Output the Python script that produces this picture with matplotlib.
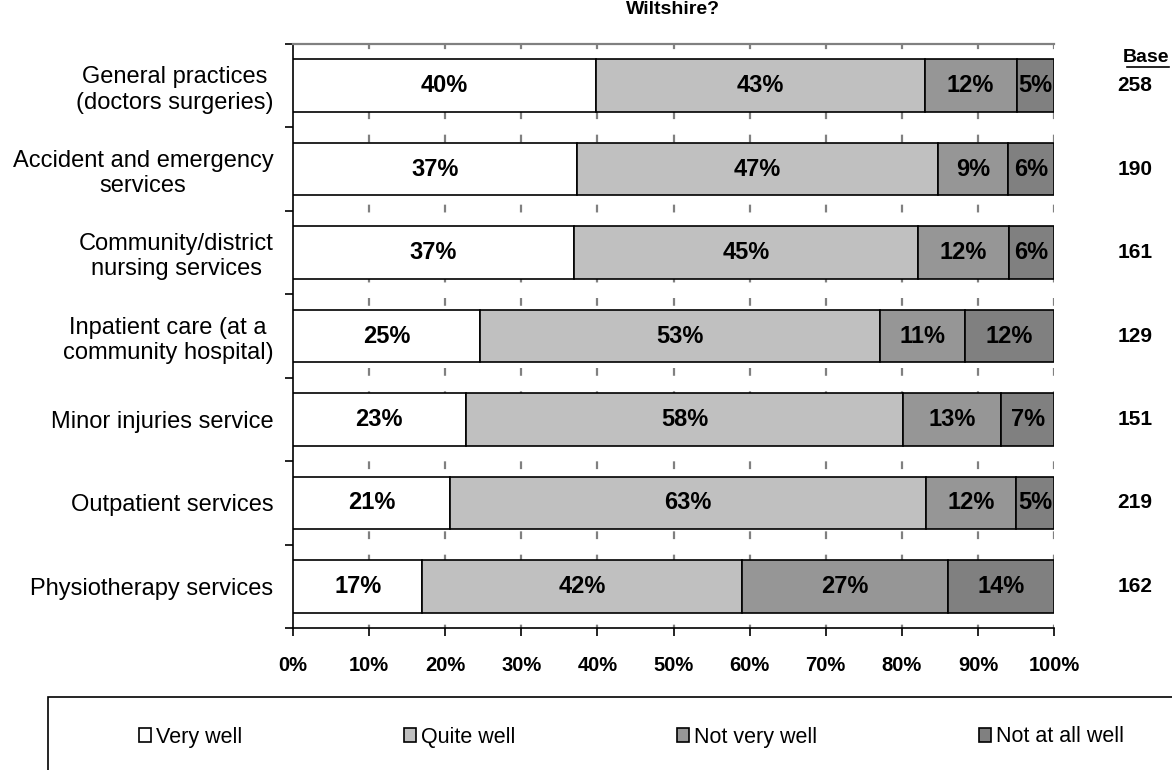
import matplotlib
matplotlib.use("Agg")
import numpy as np
from matplotlib import pyplot as plt
from matplotlib import transforms
from matplotlib.patches import Rectangle
from matplotlib.lines import Line2D

plt.rcParams["font.family"] = ["Liberation Sans", "DejaVu Sans"]

# data
categories = [
    "General practices\n(doctors surgeries)",
    "Accident and emergency\nservices",
    "Community/district\nnursing services",
    "Inpatient care (at a\ncommunity hospital)",
    "Minor injuries service",
    "Outpatient services",
    "Physiotherapy services",
]
very_well = [39.8, 37.3, 36.9, 24.6, 22.7, 20.6, 17.0]
quite_well = [43.2, 47.4, 45.2, 52.6, 57.5, 62.6, 42.0]
not_very_well = [12.1, 9.3, 12.0, 11.1, 12.9, 11.8, 27.1]
not_at_all_well = [4.9, 6.0, 5.9, 11.7, 6.9, 5.0, 13.9]
bases = [258, 190, 161, 129, 151, 219, 162]
series_names = ["Very well", "Quite well", "Not very well", "Not at all well"]
series_colors = ["#FFFFFF", "#C0C0C0", "#969696", "#808080"]

W, H = 1172, 770
fig = plt.figure(figsize=(W / 100, H / 100), dpi=100)
ax = fig.add_axes([293 / W, 1 - 628 / H, (1054 - 293) / W, (628 - 44) / H])

y = np.arange(len(categories))
left = np.zeros(len(categories))
containers = []
for vals, name, col in zip([very_well, quite_well, not_very_well, not_at_all_well],
                           series_names, series_colors):
    vals = np.array(vals)
    bc = ax.barh(y, vals, left=left, height=0.63, color=col, edgecolor="black",
                 linewidth=1.2, label=name, zorder=3)
    ax.bar_label(bc, labels=[f"{round(v + 1e-9):.0f}%" for v in vals], label_type="center",
                 fontsize=17, fontweight="bold", color="black")
    containers.append(bc)
    left += vals

ax.set_xlim(0, 100)
ax.set_ylim(len(categories) - 0.5, -0.5)

# dashed grid
for gx in range(10, 101, 10):
    ax.axvline(gx, color="#808080", linewidth=1.6, linestyle=(2, (3.5, 7)), zorder=1)

ax.set_xticks(range(0, 101, 10))
ax.set_xticklabels([f"{v}%" for v in range(0, 101, 10)], fontsize=14.5, fontweight="bold")
ax.tick_params(axis="x", direction="out", length=6, width=1.2, pad=14)

ax.set_yticks(np.arange(-0.5, len(categories), 1.0))
ax.set_yticklabels([])
ax.set_yticks(y, minor=True)
ax.set_yticklabels(categories, minor=True, fontsize=17, multialignment="center")
ax.tick_params(axis="y", which="major", direction="out", length=6, width=1.2)
ax.tick_params(axis="y", which="minor", length=0, pad=14)

ax.spines["top"].set_color("#808080")
ax.spines["top"].set_linewidth(1.6)
ax.spines["right"].set_visible(False)
ax.spines["left"].set_linewidth(1.2)
ax.spines["bottom"].set_linewidth(1.2)

# base column
trans = transforms.blended_transform_factory(fig.transFigure, ax.transData)
for yi, b in zip(y, bases):
    ax.text(1135 / W, yi, str(b), transform=trans, ha="center", va="center",
            fontsize=15, fontweight="bold")
fig.text(1169 / W, 1 - 57 / H, "Base", ha="right", va="center", fontsize=14, fontweight="bold")
fig.add_artist(Line2D([1127 / W, 1169 / W], [1 - 67 / H, 1 - 67 / H],
                      transform=fig.transFigure, color="black", linewidth=1.2))

# title (last line of it, at the very top)
fig.text(673 / W, 1 - 1 / H, "Wiltshire?", ha="center", va="top",
         fontsize=14, fontweight="bold")

# legend box, runs off the figure
fig.add_artist(Rectangle((48 / W, -0.1), 1.0, 1 - 697 / H + 0.1, transform=fig.transFigure,
                         fill=False, edgecolor="black", linewidth=1.2))
fig.legend(handles=containers, labels=series_names, ncol=4, frameon=False,
           loc="center left", bbox_to_anchor=(139 / W, 1 - 737 / H),
           fontsize=15.5, handlelength=0.55, handleheight=0.6, handletextpad=0.25,
           columnspacing=7.5, borderpad=0, borderaxespad=0)

fig.savefig("out.png", dpi=100)
